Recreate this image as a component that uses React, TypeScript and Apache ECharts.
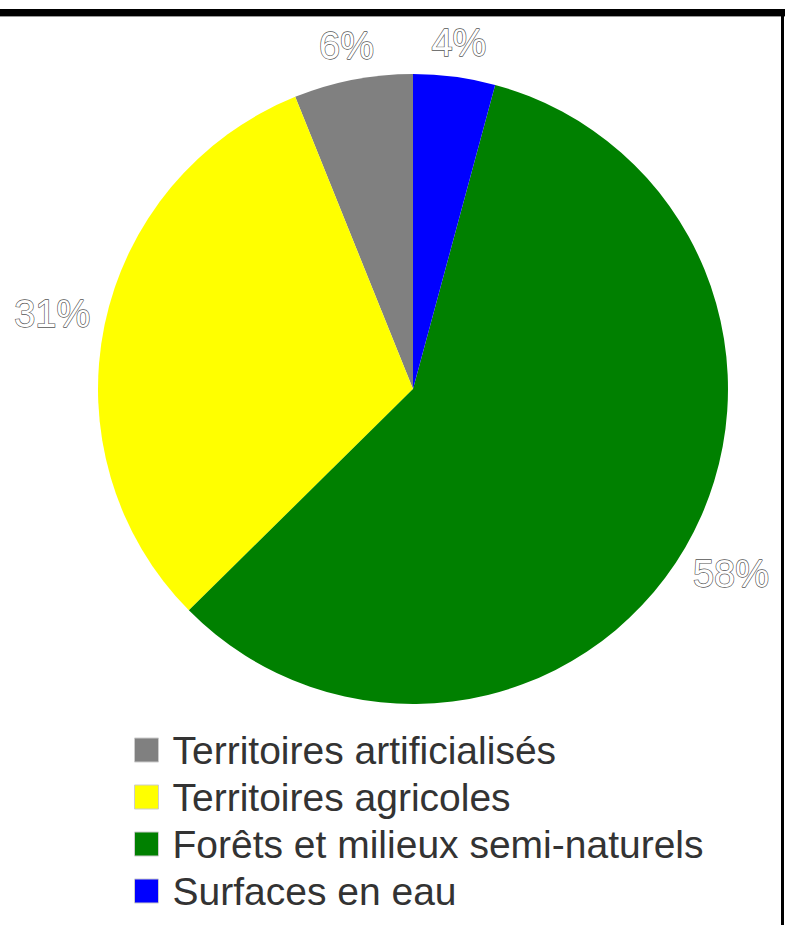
import React, { useEffect, useRef } from "react";
import * as echarts from "echarts";

const categories = [
  "Territoires artificialisés",
  "Territoires agricoles",
  "Forêts et milieux semi-naturels",
  "Surfaces en eau",
];
const values = [6.1, 31.3, 58.4, 4.2];
const colors = ["#808080", "#ffff00", "#008000", "#0000ff"];

const CX = 413;
const CY = 389;
const R = 315;
const LABEL_GAP = 14;

export default function App() {
  const ref = useRef<HTMLDivElement>(null);
  useEffect(() => {
    if (!ref.current) return;
    const chart = echarts.init(ref.current, null, { renderer: "svg" });
    chart.setOption({
      animation: false,
      textStyle: { fontFamily: "Liberation Sans, Arial, sans-serif" },
      graphic: [
        { type: "rect", shape: { x: 0, y: 9, width: 785, height: 7 }, style: { fill: "#000" } },
        { type: "rect", shape: { x: 0, y: 16, width: 785, height: 1 }, style: { fill: "#999" } },
        { type: "rect", shape: { x: 781, y: 16, width: 3, height: 909 }, style: { fill: "#000" } },
      ],
      legend: {
        orient: "vertical",
        left: 134,
        top: 730,
        height: 300,
        padding: 0,
        itemWidth: 24,
        itemHeight: 24,
        itemGap: 7,
        icon: "rect",
        data: categories,
        itemStyle: { borderColor: "#ccc", borderWidth: 1 },
        textStyle: {
          fontSize: 39,
          lineHeight: 40,
          color: "#333",
          padding: [0, 0, 0, 9],
          fontFamily: "Liberation Sans, Arial, sans-serif",
        },
      },
      series: [
        {
          type: "pie",
          center: [CX, CY],
          radius: R,
          startAngle: 90,
          clockwise: false,
          data: categories.map((name, i) => ({
            name,
            value: values[i],
            itemStyle: { color: colors[i] },
          })),
          label: {
            show: true,
            position: "inside",
            formatter: (p: any) => Math.round(p.percent) + "%",
            fontSize: 38,
            color: "#fff",
            textBorderColor: "#555",
            textBorderWidth: 1.3,
            fontFamily: "Liberation Sans, Arial, sans-serif",
          },
          labelLayout: (p: any) => {
            const r = p.labelRect;
            const mx = r.x + r.width / 2;
            const my = r.y + r.height / 2;
            const vx = mx - CX;
            const vy = my - CY;
            const d0 = Math.sqrt(vx * vx + vy * vy) || 1;
            const ux = vx / d0;
            const uy = vy / d0;
            const ex = Math.abs(ux) > 1e-6 ? r.width / 2 / Math.abs(ux) : Infinity;
            const ey = Math.abs(uy) > 1e-6 ? r.height / 2 / Math.abs(uy) : Infinity;
            const e = Math.min(ex, ey);
            const D = R + LABEL_GAP + e;
            return { dx: ux * (D - d0), dy: uy * (D - d0) };
          },
          labelLine: { show: false },
          emphasis: { disabled: true },
        },
      ],
    });
    return () => chart.dispose();
  }, []);
  return (
    <div
      ref={ref}
      style={{ position: "absolute", left: 0, top: 0, width: 785, height: 925, background: "#fff" }}
    />
  );
}
